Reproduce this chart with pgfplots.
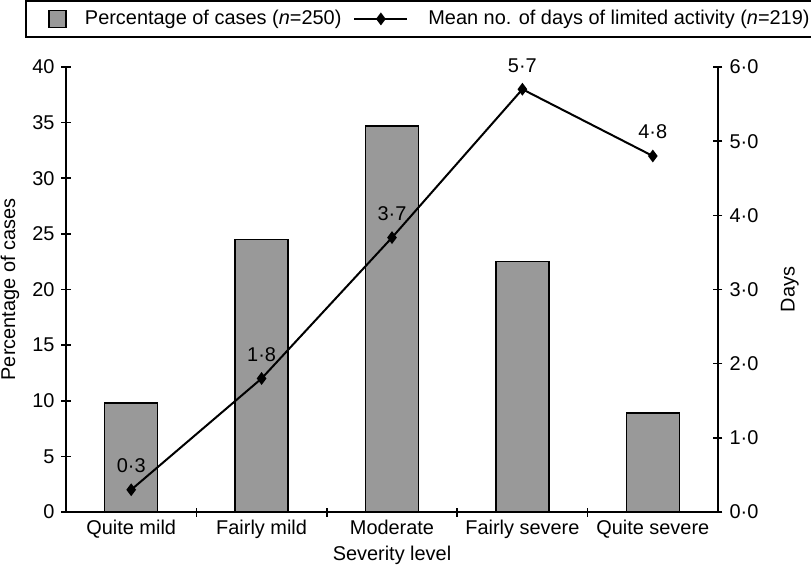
\documentclass[border=0pt]{standalone}
\usepackage{pgfplots}
\pgfplotsset{compat=1.18}
\usepackage{pgfplotstable}
\usepackage{fontspec}
\setmainfont{Liberation Sans}

\definecolor{barg}{RGB}{153,153,153}

% percentage of cases by severity level
\pgfplotstableread{
x pct
0 9.8
1 24.5
2 34.7
3 22.5
4 8.9
}\pcttable

\pgfplotsset{
  every axis/.append style={
    scale only axis, width=326bp, height=222.5bp,
    xmin=-0.5, xmax=4.5,
    tick align=center, major tick length=4.5bp, minor tick length=4.5bp,
    axis line style={line width=1bp}, every tick/.style={black, line width=0.8bp},
    /pgf/number format/assume math mode=true,
    font=\fontsize{10}{12}\selectfont,
  },
  barlegend/.style={legend image code/.code={
    \path[draw=none] (0bp,0bp) -- (26.5bp,0bp);
    \draw[fill=barg, draw=black, line width=0.7bp] (10.5bp,-4.25bp) rectangle (19bp,4.25bp);}},
  linelegend/.style={legend image code/.code={
    \path[draw=none] (0bp,0bp) -- (35bp,0bp);
    \draw[mark repeat=2, mark phase=2, ##1] plot coordinates {(0bp,0bp) (13.25bp,0bp) (26.5bp,0bp)};}},
}

\begin{document}
\fontsize{10}{12}\selectfont
\begin{tikzpicture}
\begin{axis}[
  axis x line*=bottom, axis y line*=left,
  ymin=0, ymax=40, ytick={0,5,...,40},
  xtick={0,...,4},
  xticklabels={Quite mild, Fairly mild, Moderate, Fairly severe, Quite severe},
  xticklabel style={yshift=1.5bp},
  major x tick style={draw=none},
  minor xtick={0.5,1.5,2.5,3.5},
  xlabel={Severity level}, ylabel={Percentage of cases},
  xlabel style={at={(axis description cs:0.5,-0.097)}, anchor=center},
  ylabel style={at={(axis description cs:-0.086,0.5)}, anchor=center},
]
\addplot[ybar, bar width=26.5bp, fill=barg, draw=black, line width=0.7bp]
  table[x=x, y=pct] {\pcttable};
\end{axis}
\begin{axis}[
  axis x line=none, axis y line*=right,
  ymin=0, ymax=6, ytick={0,...,6},
  yticklabels={0·0,1·0,2·0,3·0,4·0,5·0,6·0},
  ylabel={Days},
  ylabel style={at={(axis description cs:1.11,0.5)}, anchor=center},
  legend columns=2,
  legend style={at={(axis description cs:-0.0629,1.15)}, anchor=north west,
    draw=black, line width=1bp, inner xsep=1bp, inner ysep=2.5bp,
    font=\fontsize{10}{12}\selectfont,
    /tikz/every even column/.append style={column sep=4bp}},
]
\addlegendimage{barlegend}
\addlegendentry{Percentage of cases (\textit{n}=250)}
\addplot[black, line width=1bp, mark=diamond*, mark size=2.4bp, linelegend,
  nodes near coords, point meta=explicit symbolic,
  every node near coord/.style={anchor=center, yshift=12bp, black, font=\fontsize{10}{12}\selectfont}]
  coordinates {(0,0.3)[0·3] (1,1.8)[1·8] (2,3.7)[3·7] (3,5.7)[5·7] (4,4.8)[4·8]};
\addlegendentry{Mean no. of days of limited activity (\textit{n}=219)}
\end{axis}
\pgfresetboundingbox
\useasboundingbox (-33bp,-32bp) rectangle (372.5bp,256bp);
\end{tikzpicture}
\end{document}
